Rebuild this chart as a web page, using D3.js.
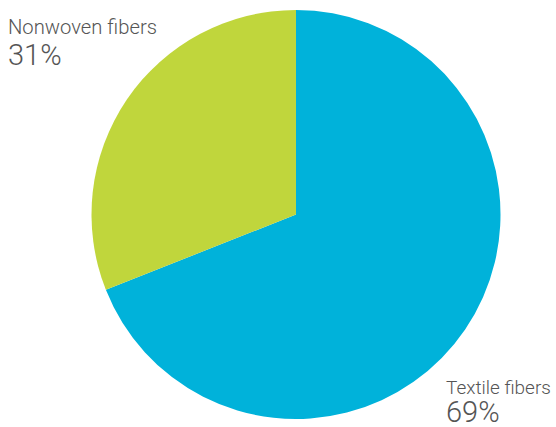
<!DOCTYPE html>
<html>
<head>
<meta charset="utf-8">
<script src="https://cdn.jsdelivr.net/npm/d3@7"></script>
<style>
  html, body { margin: 0; padding: 0; background: #ffffff; }
  svg { display: block; }
  text { font-family: Roboto, "Liberation Sans", sans-serif; font-weight: 300; fill: #555555; }
</style>
</head>
<body>
<svg id="chart" width="556" height="427"></svg>
<script>
const categories = ["Textile fibers", "Nonwoven fibers"];
const values = [69, 31];
const labels = ["69%", "31%"];
const colors = ["#00B2DA", "#C0D63C"];

const svg = d3.select("#chart");
const cx = 296, cy = 214.5, radius = 204.5;

const pie = d3.pie().sort(null).value(d => d.value);
const data = categories.map((c, i) => ({ name: c, value: values[i], label: labels[i], color: colors[i] }));
const arcs = pie(data);
const arc = d3.arc().innerRadius(0).outerRadius(radius);

const g = svg.append("g").attr("transform", `translate(${cx},${cy})`);
g.selectAll("path")
  .data(arcs)
  .join("path")
  .attr("d", arc)
  .attr("fill", d => d.data.color);

// Labels: fit name text to the width seen in the reference
const labelPos = {
  "Nonwoven fibers": { x: 8, y1: 34, y2: 65, w: 149 },
  "Textile fibers": { x: 446, y1: 394, y2: 422, w: 105 }
};
data.forEach(d => {
  const p = labelPos[d.name];
  const t = svg.append("text").attr("x", p.x).attr("y", p.y1).attr("font-size", 20).text(d.name);
  const w = t.node().getComputedTextLength();
  t.attr("font-size", Math.min(21, 20 * p.w / w));
  svg.append("text").attr("x", p.x).attr("y", p.y2).attr("font-size", 29).text(d.label);
});
</script>
</body>
</html>
